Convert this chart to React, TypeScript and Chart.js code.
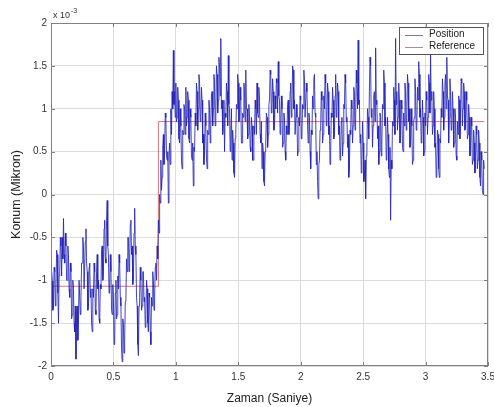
import React, { useEffect, useRef } from "react";
import { Chart, registerables } from "chart.js";

Chart.register(...registerables);

const SAMPLE_STEP = 0.005; // seconds between samples
const positionValues: number[] = [
  // 0.00 - 0.855
  -1.2, -0.9, -1.0, -1.35, -1.3, -0.85, -0.9, -1.3, -1.1, -0.65, -0.7, -1.15, -1.5, -0.95, -0.9, -0.5, -0.6, -0.95, -0.5, -0.75,
  -0.28, -0.7, -0.8, -0.45, -0.6, -1.0, -1.0, -0.6, -0.7, -1.1, -1.2, -0.8, -0.9, -1.45, -1.4, -1.0, -1.1, -1.5, -1.6, -1.3,
  -1.92, -1.4, -1.3, -1.7, -1.5, -1.0, -1.0, -1.4, -1.2, -0.8, -0.8, -0.5, -0.6, -1.1, -1.1, -0.55, -0.4, -0.8, -0.9, -1.35,
  -1.3, -0.85, -0.8, -1.2, -1.1, -1.5, -1.6, -1.1, -1.2, -0.8, -0.9, -1.35, -1.4, -0.9, -0.7, -1.1, -1.0, -1.45, -1.5, -1.05,
  -1.1, -0.65, -0.6, -1.0, -0.9, -0.4, -0.3, -0.75, -0.8, -0.3, -0.07, -0.6, -0.7, -1.15, -1.1, -0.7, -0.9, -1.35, -1.4, -1.05,
  -1.2, -1.75, -1.7, -1.15, -1.0, -1.45, -1.4, -0.95, -1.1, -0.7, -0.8, -1.2, -1.3, -1.8, -1.95, -1.45, -1.5, -1.85, -1.7, -1.25,
  -1.2, -0.75, -0.9, -0.5, -0.5, -0.9, -0.8, -0.35, -0.3, -0.7, -0.6, -1.05, -1.0, -0.45, -0.16, -0.6, -0.7, -1.2, -1.3, -1.75,
  -1.88, -1.3, -1.2, -0.85, -1.0, -1.35, -1.3, -0.9, -0.9, -1.25, -1.2, -1.55, -1.4, -1.0, -1.1, -1.5, -1.6, -1.15, -1.2, -1.6,
  -1.75, -1.2, -1.3, -0.9, -1.0, -1.35, -1.2, -0.85, -0.8, -1.0, -0.6, -0.75,
  // 0.86 - 0.995
  -0.3, -0.45, 0.0, -0.1, 0.4, 0.05, 0.2, 0.55,
  0.7, 0.35, 0.5, 0.95, 0.9, 0.45, 0.4, 0.5, -0.1, 0.45, 0.6, 0.35, 1.0, 0.7, 1.2, 1.0, 1.68, 1.05, 1.2, 0.9,
  // 1.00 - 1.995
  1.3, 0.85, 0.9, 1.25, 1.1, 0.65, 0.6, 1.0, 0.8, 0.4, 0.3, 0.75, 0.7, 1.05, 1.0, 0.7, 1.25, 0.8, 0.9, 1.2,
  1.1, 0.65, 0.6, 1.0, 0.9, 0.45, 0.4, 0.6, 0.1, 0.55, 0.5, 0.95, 0.8, 1.3, 1.2, 0.75, 1.0, 1.4, 1.3, 0.85,
  0.9, 1.25, 1.1, 0.6, 0.7, 0.35, 0.5, 0.95, 0.8, 0.45, 0.3, 0.75, 0.7, 1.1, 1.0, 0.6, 0.8, 1.15, 1.2, 0.8,
  1.0, 1.4, 1.3, 0.8, 0.9, 1.5, 1.4, 0.95, 1.1, 1.6, 1.5, 1.15, 1.82, 1.0, 1.1, 0.7, 0.8, 1.1, 0.5, 0.95,
  0.9, 1.3, 1.2, 0.8, 1.62, 1.05, 1.0, 0.5, 0.7, 1.0, 0.4, 0.75, 0.6, 0.25, 0.2, 0.65, 0.7, 1.05, 1.0, 1.4,
  1.3, 0.85, 0.9, 1.25, 1.1, 0.6, 0.6, 0.95, 0.9, 1.3, 1.2, 0.85, 1.45, 1.0, 1.0, 0.65, 0.7, 1.05, 0.9, 0.55,
  0.5, 0.9, 0.8, 0.4, 0.4, 0.8, 0.7, 1.1, 1.0, 0.7, 1.3, 0.95, 0.9, 1.25, 1.1, 0.7, 0.6, 0.85, 0.3, 0.6,
  0.5, 0.15, 0.1, 0.5, 0.6, 0.95, 0.9, 0.55, 0.7, 1.05, 1.1, 1.45, 1.4, 0.95, 1.0, 1.35, 1.2, 0.75, 0.8, 1.15,
  1.0, 1.35, 1.3, 0.95, 1.55, 1.15, 1.1, 0.7, 0.8, 1.15, 1.0, 0.55, 0.6, 0.95, 0.9, 0.5, 0.4, 0.8, 0.7, 1.05,
  1.1, 0.7, 0.8, 1.2, 1.3, 0.9, 1.0, 1.5, 1.45, 1.0, 1.1, 0.7, 0.7, 1.05, 0.9, 0.45, 0.5, 0.9, 0.8, 1.15,
  // 2.00 - 2.995
  1.1, 0.65, 0.7, 1.05, 1.0, 1.45, 1.35, 0.9, 0.9, 1.3, 1.2, 0.8, 0.6, 0.95, 0.9, 0.5, 0.3, 0.75, 0.7, 1.15,
  1.0, 1.35, 1.4, 0.95, 0.9, 0.35, 0.5, 0.15, -0.05, 0.35, 0.4, 0.75, 0.8, 1.2, 1.1, 0.6, 0.7, 1.15, 1.0, 1.4,
  1.3, 0.8, 0.9, 1.3, 1.2, 0.7, 0.8, 0.35, 0.5, 0.95, 0.9, 1.25, 1.1, 0.65, 0.7, 1.15, 1.4, 0.9, 1.0, 1.3,
  1.2, 0.7, 0.8, 0.4, 0.5, 0.85, 0.9, 0.45, 0.6, 1.05, 1.0, 1.4, 1.3, 0.85, 0.9, 0.55, 0.7, 0.2, 0.3, 0.75,
  0.7, 1.1, 1.0, 0.6, 0.8, 1.25, 1.2, 0.75, 0.9, 1.45, 1.3, 1.0, 1.8, 1.05, 1.1, 0.6, 0.7, 0.25, 0.4, 0.85,
  0.6, 0.15, 0.2, 0.4, -0.05, 0.45, 0.5, 1.0, 0.9, 0.65, 1.2, 1.6, 1.5, 0.9, 1.0, 0.55, 0.8, 1.15, 1.2, 0.85,
  1.71, 1.05, 1.1, 0.65, 0.8, 0.35, 0.5, 0.95, 0.9, 0.45, 0.6, 1.05, 1.0, 1.45, 1.3, 0.8, 0.9, 0.4, 0.5, 0.9,
  0.7, 0.3, 0.2, 0.55, -0.3, 0.4, 0.3, 0.85, 0.8, 1.25, 1.1, 0.7, 1.82, 1.05, 1.2, 0.75, 0.9, 1.3, 1.1, 0.6,
  0.7, 1.1, 1.0, 0.55, 0.5, 0.95, 0.8, 1.3, 1.2, 0.75, 0.9, 1.4, 1.3, 0.85, 1.0, 0.55, 0.6, 1.0, 0.8, 0.35,
  0.4, 0.85, 0.9, 1.35, 1.2, 0.75, 0.8, 1.25, 1.1, 1.55, 1.4, 0.9, 1.0, 0.6, 0.7, 1.1, 0.9, 0.45, 0.5, 0.95,
  // 3.00 - 3.47
  0.8, 1.2, 1.1, 0.7, 0.9, 1.4, 1.3, 0.95, 1.64, 1.1, 1.2, 0.7, 0.8, 1.2, 1.0, 0.55, 0.6, 0.2, 0.3, 0.75,
  0.7, 0.3, 0.2, 0.65, 0.6, 1.0, 0.9, 1.35, 1.2, 0.75, 0.9, 1.3, 1.4, 1.0, 1.6, 1.15, 1.1, 0.6, 0.9, 1.35,
  1.2, 0.75, 0.8, 1.2, 1.0, 0.55, 0.6, 1.0, 0.9, 0.45, 0.4, 0.85, 0.7, 1.15, 1.1, 0.65, 0.9, 1.35, 1.3, 0.8,
  1.0, 1.3, 1.2, 0.75, 0.8, 1.2, 1.1, 0.65, 0.7, 1.05, 0.9, 0.45, 0.5, 0.9, 0.8, 0.35, 0.4, 0.75, 0.6, 0.25,
  0.3, 0.8, 0.7, 0.3, 0.4, 0.75, 0.6, 0.2, 0.1, 0.5, 0.4, 0.05, 0.0, 0.4, 0.3,
];

const referenceTimes: number[] = [0, 0.86, 0.86, 3.47];
const referenceValues: number[] = [-1.07, -1.07, 0.85, 0.85];

const X_MIN = 0, X_MAX = 3.5, X_STEP = 0.5;
const Y_MIN = -2, Y_MAX = 2, Y_STEP = 0.5;

const seriesNames = ["Position", "Reference"];
const xTitle = "Zaman (Saniye)";
const yTitle = "Konum (Mikron)";

const BLUE = "rgba(35,35,185,0.85)";
const RED = "rgba(215,90,95,0.85)";
const FONT = "'Liberation Sans', Arial, sans-serif";

const decorPlugin = {
  id: "matlabDecor",
  afterDraw(chart: any) {
    const { ctx, chartArea } = chart;
    const { left, right, top, bottom } = chartArea;
    const xs = chart.scales.x;
    const ys = chart.scales.y;
    ctx.save();
    ctx.strokeStyle = "#808080";
    ctx.lineWidth = 1;
    ctx.strokeRect(left + 0.5, top + 0.5, right - left - 1, bottom - top - 1);
    ctx.beginPath();
    xs.ticks.forEach((t: any) => {
      const px = Math.round(xs.getPixelForValue(t.value)) + 0.5;
      ctx.moveTo(px, bottom); ctx.lineTo(px, bottom - 4);
      ctx.moveTo(px, top); ctx.lineTo(px, top + 4);
    });
    ys.ticks.forEach((t: any) => {
      const py = Math.round(ys.getPixelForValue(t.value)) + 0.5;
      ctx.moveTo(left, py); ctx.lineTo(left + 4, py);
      ctx.moveTo(right, py); ctx.lineTo(right - 4, py);
    });
    ctx.stroke();
    ctx.fillStyle = "#333";
    ctx.textBaseline = "alphabetic";
    ctx.textAlign = "left";
    ctx.font = `9px ${FONT}`;
    ctx.fillText("x 10", left + 2, top - 5);
    ctx.font = `7px ${FONT}`;
    ctx.fillText("-3", left + 20, top - 10);
    ctx.font = `12px ${FONT}`;
    ctx.fillStyle = "#222";
    ctx.textAlign = "center";
    ctx.textBaseline = "middle";
    ctx.fillText(xTitle, (left + right) / 2, 399);
    ctx.font = `12.5px ${FONT}`;
    ctx.translate(17, (top + bottom) / 2);
    ctx.rotate(-Math.PI / 2);
    ctx.fillText(yTitle, 0, 0);
    ctx.setTransform(1, 0, 0, 1, 0, 0);
    const lx = right - 89, ly = top + 4, lw = 84, lh = 27;
    ctx.fillStyle = "#fff";
    ctx.fillRect(lx, ly, lw, lh);
    ctx.strokeStyle = "#555";
    ctx.strokeRect(lx + 0.5, ly + 0.5, lw, lh);
    const colors = ["#7878a8", "#b08c94"];
    seriesNames.forEach((name, i) => {
      const yy = ly + 7.5 + i * 12;
      ctx.strokeStyle = colors[i];
      ctx.beginPath();
      ctx.moveTo(lx + 6, Math.round(yy) + 0.5);
      ctx.lineTo(lx + 24, Math.round(yy) + 0.5);
      ctx.stroke();
      ctx.fillStyle = "#222";
      ctx.font = `10px ${FONT}`;
      ctx.textAlign = "left";
      ctx.textBaseline = "middle";
      ctx.fillText(name, lx + 30, yy);
    });
    ctx.restore();
  },
};

const fmt = (v: any) => String(Math.round(Number(v) * 100) / 100);

export default function App() {
  const canvasRef = useRef<HTMLCanvasElement>(null);
  useEffect(() => {
    const canvas = canvasRef.current;
    if (!canvas) return;
    const positionPoints = positionValues.map((v, i) => ({ x: i * SAMPLE_STEP, y: v }));
    const referencePoints = referenceTimes.map((t, i) => ({ x: t, y: referenceValues[i] }));
    const chart = new Chart(canvas, {
      type: "scatter",
      data: {
        datasets: [
          {
            label: seriesNames[0],
            data: positionPoints,
            showLine: true,
            borderColor: BLUE,
            borderWidth: 1,
            pointRadius: 0,
            tension: 0,
          },
          {
            label: seriesNames[1],
            data: referencePoints,
            showLine: true,
            borderColor: RED,
            borderWidth: 1,
            pointRadius: 0,
            tension: 0,
          },
        ],
      },
      options: {
        responsive: false,
        animation: false,
        layout: { padding: { top: 23, right: 6, left: 0, bottom: 0 } },
        plugins: { legend: { display: false }, tooltip: { enabled: false } },
        scales: {
          x: {
            type: "linear",
            min: X_MIN,
            max: X_MAX,
            ticks: {
              stepSize: X_STEP,
              padding: 5,
              color: "#333",
              font: { size: 10, family: FONT },
              maxRotation: 0,
              callback: fmt,
            },
            grid: { color: "#dcdcdc", drawTicks: false },
            border: { display: false },
            afterFit: (s: any) => {
              s.height = 41;
              s.paddingLeft = 0;
              s.paddingRight = 0;
            },
          },
          y: {
            type: "linear",
            min: Y_MIN,
            max: Y_MAX,
            ticks: {
              stepSize: Y_STEP,
              padding: 4,
              color: "#333",
              font: { size: 10, family: FONT },
              callback: fmt,
            },
            grid: { color: "#dcdcdc", drawTicks: false },
            border: { display: false },
            afterFit: (s: any) => {
              s.width = 51;
              s.paddingTop = 0;
              s.paddingBottom = 0;
            },
          },
        },
      },
      plugins: [decorPlugin],
    } as any);
    return () => chart.destroy();
  }, []);
  return (
    <div style={{ position: "absolute", left: 0, top: 0, width: 494, height: 407, background: "#fff" }}>
      <canvas ref={canvasRef} width={494} height={407} />
    </div>
  );
}
